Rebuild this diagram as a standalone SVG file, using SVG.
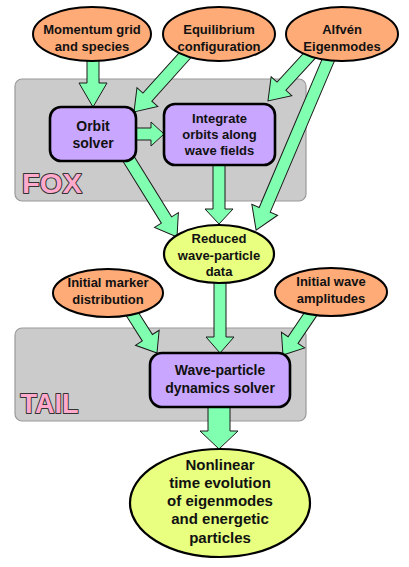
<svg xmlns="http://www.w3.org/2000/svg" width="409" height="567" viewBox="0 0 409 567">
<style>
.grp{fill:#cbcbcb;stroke:#9a9a9a;stroke-width:1.2}
.inp{fill:#ffab78;stroke:#000;stroke-width:2}
.res{fill:#e8ff80;stroke:#000;stroke-width:2.2}
.box{fill:#c9a6ff;stroke:#000;stroke-width:2.6}
.arr{fill:#80ffb0;stroke:#1a1a1a;stroke-width:1;stroke-linejoin:miter}
text{font-family:"Liberation Sans",Arial,sans-serif;font-weight:bold;fill:#111;text-anchor:middle}
.t13{font-size:13px}
.t14{font-size:14px}
.t15{font-size:15px}
.lbl{font-size:28px;fill:#ffaacc;stroke:#333;stroke-width:2;text-anchor:start;paint-order:stroke;stroke-linejoin:round}
</style>
<g id="fox-group">
<rect class="grp" x="15" y="79" width="291" height="122" rx="7"/>
<text class="lbl" x="22" y="193" textLength="60" lengthAdjust="spacingAndGlyphs">FOX</text>
</g>
<g id="tail-group">
<rect class="grp" x="15" y="328" width="291" height="93" rx="7"/>
<text class="lbl" x="20.5" y="413" textLength="58" lengthAdjust="spacingAndGlyphs">TAIL</text>
</g>
<g id="connectors">
<polygon class="arr" transform="translate(93,58) rotate(90)" points="0,-6 25,-6 25,-14 49,0 25,14 25,6 0,6"/>
<polygon class="arr" transform="translate(188,52) rotate(132)" points="0,-6 60.7,-6 60.7,-14 80.7,0 60.7,14 60.7,6 0,6"/>
<polygon class="arr" transform="translate(311,54) rotate(132.5)" points="0,-6 43.7,-6 43.7,-14 63.7,0 43.7,14 43.7,6 0,6"/>
<polygon class="arr" transform="translate(330,56) rotate(113)" points="0,-6 167.1,-6 167.1,-14 189.1,0 167.1,14 167.1,6 0,6"/>
<polygon class="arr" transform="translate(136,134)" points="0,-6 15,-6 15,-12 28,0 15,12 15,6 0,6"/>
<polygon class="arr" transform="translate(128,158) rotate(58.2)" points="0,-6 73,-6 73,-14 93,0 73,14 73,6 0,6"/>
<polygon class="arr" transform="translate(219,164) rotate(90)" points="0,-6 45,-6 45,-14 60,0 45,14 45,6 0,6"/>
<polygon class="arr" transform="translate(220,280) rotate(90)" points="0,-6 57,-6 57,-14 73,0 57,14 57,6 0,6"/>
<polygon class="arr" transform="translate(131,312) rotate(57.6)" points="0,-6 30.5,-6 30.5,-14 48.5,0 30.5,14 30.5,6 0,6"/>
<polygon class="arr" transform="translate(312,312) rotate(124)" points="0,-6 33.9,-6 33.9,-14 51.9,0 33.9,14 33.9,6 0,6"/>
<polygon class="arr" transform="translate(219,405) rotate(90)" points="0,-11 26,-11 26,-19 44,0 26,19 26,11 0,11"/>
</g>
<g id="momentum">
<ellipse class="inp" cx="92" cy="34" rx="59" ry="27"/>
<text class="t13" x="92" y="34">Momentum grid</text>
<text class="t13" x="92" y="51">and species</text>
</g>
<g id="equilibrium">
<ellipse class="inp" cx="219" cy="34" rx="56" ry="27"/>
<text class="t13" x="219" y="34">Equilibrium</text>
<text class="t13" x="219" y="51">configuration</text>
</g>
<g id="alfven">
<ellipse class="inp" cx="342" cy="34" rx="56" ry="27"/>
<text class="t13" x="342" y="34">Alfvén</text>
<text class="t13" x="342" y="51">Eigenmodes</text>
</g>
<g id="orbit-solver">
<rect class="box" x="50" y="107" width="86" height="54" rx="11"/>
<text class="t14" x="93" y="131">Orbit</text>
<text class="t14" x="93" y="148">solver</text>
</g>
<g id="integrate">
<rect class="box" x="164" y="104" width="111" height="61" rx="11"/>
<text class="t13" x="219.5" y="123">Integrate</text>
<text class="t13" x="219.5" y="139">orbits along</text>
<text class="t13" x="219.5" y="155">wave fields</text>
</g>
<g id="reduced">
<ellipse class="res" cx="219" cy="254" rx="55" ry="29"/>
<text class="t13" x="219" y="243">Reduced</text>
<text class="t13" x="219" y="260">wave-particle</text>
<text class="t13" x="219" y="276">data</text>
</g>
<g id="initial-marker">
<ellipse class="inp" cx="108" cy="293" rx="55" ry="24"/>
<text class="t13" x="108" y="287">Initial marker</text>
<text class="t13" x="108" y="304">distribution</text>
</g>
<g id="initial-wave">
<ellipse class="inp" cx="331" cy="292" rx="56" ry="24"/>
<text class="t13" x="331" y="286">Initial wave</text>
<text class="t13" x="331" y="303">amplitudes</text>
</g>
<g id="wp-solver">
<rect class="box" x="150" y="353" width="140" height="54" rx="12"/>
<text class="t14" x="220" y="375">Wave-particle</text>
<text class="t14" x="220" y="393">dynamics solver</text>
</g>
<g id="nonlinear">
<ellipse class="res" cx="220" cy="503" rx="90" ry="54"/>
<text class="t15" x="220" y="470">Nonlinear</text>
<text class="t15" x="220" y="488">time evolution</text>
<text class="t15" x="220" y="506">of eigenmodes</text>
<text class="t15" x="220" y="524">and energetic</text>
<text class="t15" x="220" y="543">particles</text>
</g>
</svg>
